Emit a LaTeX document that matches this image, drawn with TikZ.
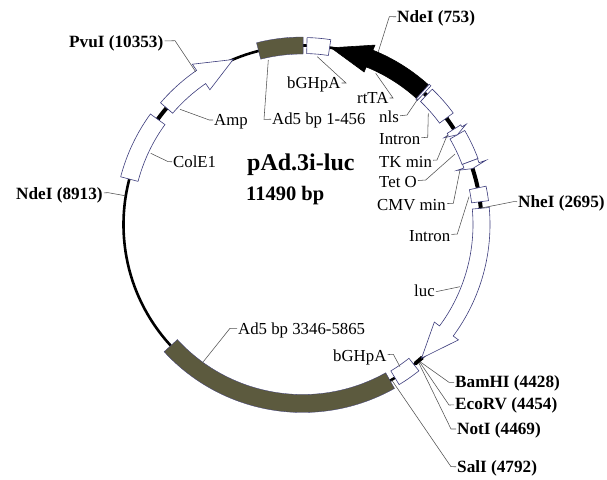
\documentclass[tikz,border=0pt]{standalone}
\usepackage{fontspec}
\setmainfont{Liberation Serif}
\usepackage{tikz}
\usepackage{xcolor}
\definecolor{featline}{HTML}{3C3C7C}
\definecolor{leadgray}{HTML}{505050}
\definecolor{adolive}{HTML}{5C5A3E}
\tikzset{
  feature/.style={draw=featline,line width=0.6pt,fill=white,line join=miter},
  adband/.style={feature,fill=adolive,line width=0.3pt},
  gene/.style={feature,fill=black,draw=black},
  backbone/.style={line width=2.6pt,draw=black},
  leader/.style={draw=leadgray,line width=0.55pt},
  site/.style={anchor=west,inner sep=1pt,text height=11pt,text depth=0pt,font=\fontsize{17.2}{17}\selectfont\bfseries},
  part/.style={anchor=west,inner sep=1pt,text height=11pt,text depth=0pt,font=\fontsize{16.8}{17}\selectfont},
}
% ring segment: style, start angle, end angle, half width
\newcommand{\ringbox}[4]{%
  \draw[#1] (#2:{179+#4}) arc[start angle=#2,end angle=#3,radius={179+#4}]
    -- (#3:{179-#4}) arc[start angle=#3,end angle=#2,radius={179-#4}] -- cycle;}
% ring arrow: style, tail, head base, tip, shaft half width, head half width
\newcommand{\ringarrow}[6]{%
  \draw[#1] (#2:{179+#5}) arc[start angle=#2,end angle=#3,radius={179+#5}]
    -- (#3:{179+#6}) -- (#4:179) -- (#3:{179-#6}) -- (#3:{179-#5})
    arc[start angle=#3,end angle=#2,radius={179-#5}] -- cycle;}
\begin{document}
\begin{tikzpicture}[x=1pt,y=-1pt]
\useasboundingbox (0,0) rectangle (607,479);

% --- Plasmid ring, angles counted as usual from the centre ---
\begin{scope}[shift={(302.5,224.5)},yscale=-1]
  \draw[backbone] (0,0) circle[radius=179];
  \foreach \a/\b in {47/36, 36.5/31, 20/12, -48/-51, 144/139, 7.5/5}
    \draw[backbone,line width=4pt] (\a:179) arc[start angle=\a,end angle=\b,radius=179];
  \ringbox{adband}{104.2}{89.8}{8.5}
  \ringbox{feature}{88.6}{81.3}{8}
  \ringarrow{gene}{48}{68}{80.8}{9}{14.5}
  \ringbox{feature}{47.9}{47.2}{10}
  \foreach \a/\b/\h in {46.2/36.5/8.5, 30.1/20.6/8.5, 11.8/7.3/8.5, -51.5/-58.9/8, 144/165.3/9}
    {\ringbox{feature}{\a}{\b}{\h}}
  \ringarrow{feature}{32.2}{31.5}{30.1}{8}{13}
  \ringarrow{feature}{20.6}{19.3}{18.2}{8}{15.5}
  \ringarrow{feature}{5.2}{-36.5}{-48.3}{8.5}{15}
  \ringarrow{feature}{139.4}{124.5}{112.8}{8}{15.5}
  \ringbox{adband}{-60.7}{-137.4}{9}
\end{scope}

% --- Labels ---
\foreach \n/\x/\y/\t in {
  ndeA/396/17/NdeI (753), pvu/68/42/PvuI (10353), ndeB/15/194/NdeI (8913),
  nhe/517/202/NheI (2695), bam/454/382/BamHI (4428), eco/454/404/EcoRV (4454),
  notI/456/429/NotI (4469), sal/456/467/SalI (4792)}
  \node[site] (\n) at (\x,\y) {\t};
\foreach \n/\x/\y/\t in {
  bghTop/286/83/bGHpA, rtta/356/98/rtTA, nls/378/117/nls, intA/378/139/Intron,
  tk/378/162/TK min, teto/378/182/Tet O, cmv/376/205/CMV min, intB/408/236/Intron,
  luc/413/291/luc, bghLow/332/356/bGHpA, adBig/237/329/Ad5 bp 3346-5865,
  amp/213/120/Amp, cole/172/162/ColE1, adTop/271/119/Ad5 bp 1-456}
  \node[part] (\n) at (\x,\y) {\t};
\node[site,font=\fontsize{24}{24}\selectfont\bfseries] (pname) at (246,165) {pAd.3i-luc};
\node[site,font=\fontsize{20.5}{21}\selectfont\bfseries] (psize) at (245,195) {11490 bp};

% --- Leader lines: label, knee, point on the ring ---
\foreach \n/\kx/\ky/\fx/\fy in {
  ndeA/389.3/16.7/378.3/51.7, pvu/175/40.7/195.7/71.7, ndeB/108.3/192.7/125/195.7,
  nhe/513.3/201.7/480/208.3, bam/449/382.3/420/361.7, eco/449/405/420/362.5,
  notI/451/429/419/363.3, sal/451/466.7/391.7/380, bghTop/346/83/317.3/56.7,
  rtta/393/98/375.7/73.3, nls/407/115/418.3/98.3, intA/427.7/137.3/428.3/113.3,
  tk/437/160/447.3/135, teto/425.7/180/455/154, cmv/453.3/203.3/460/170,
  intB/457.3/234/469/196.7, luc/436/291.7/460/286.7, bghLow/393.3/354.3/400/366.7,
  adBig/230/328.3/203.3/361.7, amp/209.3/120/180/109.3, cole/168.3/161.7/150.7/153.3,
  adTop/264/119.3/268.3/60}
{
  \coordinate (\n knee) at (\kx,\ky);
  \coordinate (\n end) at (\fx,\fy);
  \draw[leader] (\n) -- (\n knee) -- (\n end);
}

\end{tikzpicture}
\end{document}
